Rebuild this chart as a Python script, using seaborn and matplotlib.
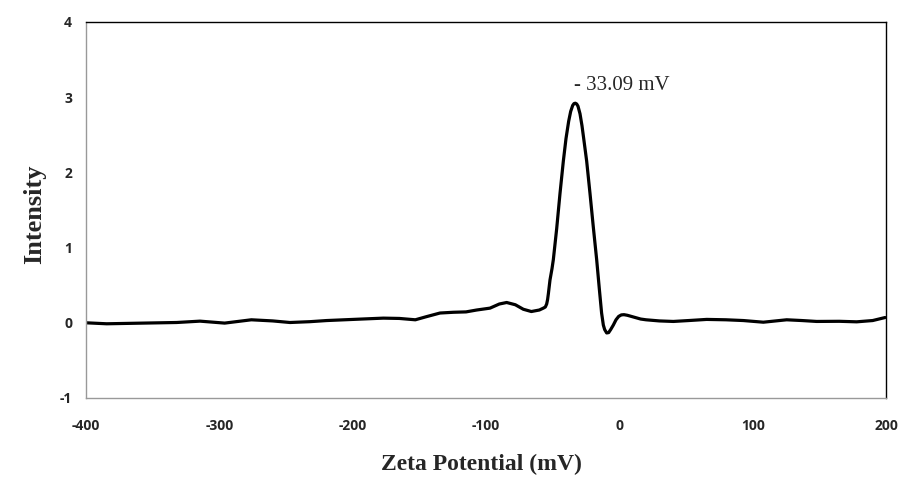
import matplotlib
matplotlib.use("Agg")
import matplotlib.pyplot as plt
import seaborn as sns
import pandas as pd

zeta_mv = [-400, -384.5, -360, -332, -314.5, -296, -276, -260, -247, -232, -219.5, -194.5, -177,
           -165, -153, -145, -134.5, -124.5, -115, -107, -97, -90, -84.5, -78, -72, -66, -60, -57,
           -55.5, -54.5, -53.8, -53.2, -52, -50.5, -49.5, -47, -44.5, -42, -40, -38, -36.5, -35, -34,
           -33, -32, -31, -29.5, -28, -26.5, -24.5, -22, -19.5, -17, -15, -13.3, -12, -11, -9.5, -8,
           -6.5, -4.5, -2.5, -0.5, 1.5, 3.5, 6, 9, 12, 16, 20, 30, 40.5,
           52, 65.5, 80, 93, 108, 125.5, 137, 148, 165, 178, 190, 199.3]
intensity = [0.0, -0.013, -0.005, 0.004, 0.022, -0.004, 0.04, 0.025, 0.004, 0.015, 0.03, 0.049, 0.062,
             0.058, 0.04, 0.08, 0.13, 0.14, 0.145, 0.17, 0.195, 0.25, 0.27, 0.24, 0.18, 0.15, 0.17, 0.195,
             0.21, 0.25, 0.31, 0.39, 0.57, 0.72, 0.84, 1.25, 1.72, 2.15, 2.45, 2.68, 2.81, 2.89, 2.915,
             2.92, 2.91, 2.88, 2.78, 2.62, 2.42, 2.15, 1.72, 1.27, 0.84, 0.45, 0.13, -0.03, -0.09, -0.135, -0.13,
             -0.09, -0.03, 0.04, 0.085, 0.105, 0.108, 0.1, 0.085, 0.07, 0.05, 0.04, 0.025, 0.018,
             0.03, 0.045, 0.04, 0.03, 0.008, 0.04, 0.03, 0.018, 0.02, 0.013, 0.03, 0.07]

x_ticks = [-400, -300, -200, -100, 0, 100, 200]
y_ticks = [-1, 0, 1, 2, 3, 4]
peak_label = "- 33.09 mV"
peak_x, peak_y = -33.09, 2.92

df = pd.DataFrame({"Zeta Potential (mV)": zeta_mv, "Intensity": intensity})

sns.set_theme(style="white")
plt.rcParams['font.family'] = ['Open Sans', 'DejaVu Sans']

fig = plt.figure(figsize=(9.17, 4.96), dpi=100)
ax = fig.add_axes([86/917, 1-398/496, 800/917, 376/496])

sns.lineplot(data=df, x="Zeta Potential (mV)", y="Intensity", ax=ax,
             color="black", linewidth=2.3, sort=False)
for l in ax.get_lines():
    l.set_solid_joinstyle("round")
    l.set_solid_capstyle("round")

ax.set_xlim(-400, 200)
ax.set_ylim(-1, 4)
ax.set_xticks(x_ticks)
ax.set_yticks(y_ticks)
ax.set_xticklabels([str(t) for t in x_ticks], fontsize=10, fontweight="bold", family="Open Sans")
ax.set_yticklabels([str(t) for t in y_ticks], fontsize=10, fontweight="bold", family="Open Sans")
ax.tick_params(axis="both", direction="in", length=4, width=0.8, color="#888888")
ax.tick_params(axis="x", pad=15)
ax.tick_params(axis="y", pad=10)

for s in ["left", "bottom"]:
    ax.spines[s].set_color("#999999")
    ax.spines[s].set_linewidth(1.0)
for s in ["top", "right"]:
    ax.spines[s].set_color("black")
    ax.spines[s].set_linewidth(1.0)

ax.set_xlabel("Zeta Potential (mV)", fontsize=17, fontweight="bold",
              family="Liberation Serif", va="center")
ax.xaxis.set_label_coords(0.494, -0.178)
ax.set_ylabel("Intensity", fontsize=19, fontweight="bold",
              family="Liberation Serif", va="center")
ax.yaxis.set_label_coords((35 - 86) / 800, 0.489)

ax.annotate(peak_label, xy=(peak_x, peak_y), xytext=(-34, 3.15), textcoords="data",
            fontsize=15, family="Liberation Serif", ha="left", va="center")

fig.savefig("out.png", dpi=100)
